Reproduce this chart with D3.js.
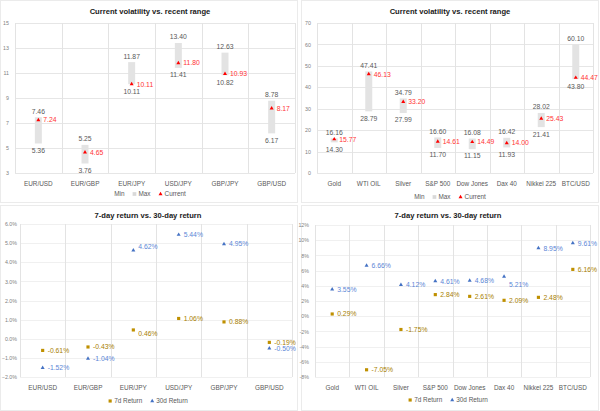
<!DOCTYPE html>
<html>
<head>
<meta charset="utf-8">
<script src="https://cdn.jsdelivr.net/npm/d3@7"></script>
<style>
  body { margin: 0; background: #fff; }
  svg { display: block; font-family: "Liberation Sans", Arial, sans-serif; }
</style>
</head>
<body>
<script>
// --- data ---
const fxPairs = ['EUR/USD', 'EUR/GBP', 'EUR/JPY', 'USD/JPY', 'GBP/JPY', 'GBP/USD'];
const fxMin = [5.36, 3.76, 10.11, 11.41, 10.82, 6.17];
const fxMax = [7.46, 5.25, 11.87, 13.40, 12.63, 8.78];
const fxCurrent = [7.24, 4.65, 10.11, 11.80, 10.93, 8.17];
const fx7d = [-0.61, -0.43, 0.46, 1.06, 0.88, -0.19];
const fx30d = [-1.52, -1.04, 4.62, 5.44, 4.95, -0.50];

const assets = ['Gold', 'WTI OIL', 'Silver', 'S&P 500', 'Dow Jones', 'Dax 40', 'Nikkei 225', 'BTC/USD'];
const assetMin = [14.30, 28.79, 27.99, 11.70, 11.15, 11.93, 21.41, 43.80];
const assetMax = [16.16, 47.41, 34.79, 16.60, 16.08, 16.42, 28.02, 60.10];
const assetCurrent = [15.77, 46.13, 33.20, 14.61, 14.49, 14.00, 25.43, 44.47];
const asset7d = [0.29, -7.05, -1.75, 2.84, 2.61, 2.09, 2.48, 6.16];
const asset30d = [3.55, 6.66, 4.12, 4.61, 4.68, 5.21, 8.95, 9.61];

const fxVolTicks = [3, 5, 7, 9, 11, 13, 15];
const assetVolTicks = [0, 10, 20, 30, 40, 50, 60, 70];
const fxRetTicks = [-2, -1, 0, 1, 2, 3, 4, 5, 6];
const assetRetTicks = [-8, -6, -4, -2, 0, 2, 4, 6, 8, 10, 12];

const GRAY_TXT = '#595959';
const RED = '#ff0000';
const GOLD = '#bf9000';
const BLUE = '#4472c4';

const svg = d3.select('body').append('svg')
  .attr('width', 600)
  .attr('height', 411);

// panel frames
[[0.5, 0.5, 297, 202], [301.5, 0.5, 297, 202], [0.5, 205.5, 297, 205], [301.5, 205.5, 297, 205]]
  .forEach(r => svg.append('rect')
    .attr('x', r[0]).attr('y', r[1]).attr('width', r[2]).attr('height', r[3])
    .attr('fill', 'none').attr('stroke', '#ebebeb'));

function frame (g, cfg, x, y) {
  g.append('text')
    .attr('x', cfg.titleX).attr('y', cfg.titleY)
    .attr('text-anchor', 'middle')
    .attr('font-size', 7.6).attr('font-weight', 'bold').attr('fill', '#1a1a1a')
    .text(cfg.title);

  g.append('g').selectAll('line').data(cfg.ticks).join('line')
    .attr('x1', cfg.x0).attr('x2', cfg.x1)
    .attr('y1', d => Math.round(y(d)) + 0.5).attr('y2', d => Math.round(y(d)) + 0.5)
    .attr('stroke', cfg.hGrid);

  const bw = x.step();
  g.append('g').selectAll('line').data(d3.range(cfg.cats.length + 1)).join('line')
    .attr('x1', i => Math.round(cfg.x0 + i * bw) + 0.5).attr('x2', i => Math.round(cfg.x0 + i * bw) + 0.5)
    .attr('y1', cfg.y0).attr('y2', cfg.y1)
    .attr('stroke', '#e3e3e3');

  const ya = g.append('g')
    .attr('transform', `translate(${cfg.x0},0)`)
    .call(d3.axisLeft(y).tickValues(cfg.ticks).tickFormat(cfg.fmt).tickSize(0).tickPadding(cfg.pad));
  ya.select('.domain').remove();
  ya.selectAll('text').attr('font-size', 5.3).attr('fill', '#7f7f7f').attr('font-family', null);

  const xa = g.append('g')
    .attr('transform', `translate(0,${cfg.y1})`)
    .call(d3.axisBottom(x).tickSize(0).tickPadding(8));
  xa.select('.domain').remove();
  xa.selectAll('text').attr('font-size', 6.4).attr('fill', GRAY_TXT).attr('font-family', null);
}

function legend (g, cx, cy, items) {
  const lg = g.append('g');
  let cur = 0;
  items.forEach(it => {
    const ig = lg.append('g').attr('transform', `translate(${cur},0)`);
    let off = 0;
    if (it.sym) {
      ig.append('path')
        .attr('d', d3.symbol(it.sym, it.size)())
        .attr('transform', 'translate(2,0)')
        .attr('fill', it.color);
      off = 6;
    }
    const t = ig.append('text')
      .attr('x', off).attr('dy', '0.35em')
      .attr('font-size', 6.4).attr('fill', GRAY_TXT)
      .text(it.label);
    cur += off + t.node().getComputedTextLength() + 8;
  });
  lg.attr('transform', `translate(${cx - (cur - 8) / 2},${cy})`);
}

function rangeChart (cfg) {
  const g = svg.append('g');
  const x = d3.scaleBand().domain(cfg.cats).range([cfg.x0, cfg.x1]);
  const y = d3.scaleLinear().domain(cfg.domain).range([cfg.y1, cfg.y0]);
  frame(g, cfg, x, y);

  const rows = cfg.cats.map((c, i) => ({ c, lo: cfg.lo[i], hi: cfg.hi[i], cur: cfg.cur[i] }));
  const cx = d => x(d.c) + x.bandwidth() / 2;

  g.append('g').selectAll('rect').data(rows).join('rect')
    .attr('x', d => cx(d) - 3.5).attr('width', 7)
    .attr('y', d => y(d.hi)).attr('height', d => y(d.lo) - y(d.hi))
    .attr('fill', '#e3e3e3');

  g.append('g').selectAll('path').data(rows).join('path')
    .attr('d', d3.symbol(d3.symbolTriangle, 7)())
    .attr('transform', d => `translate(${cx(d)},${y(d.cur)})`)
    .attr('fill', RED);

  const lbl = g.append('g').attr('font-size', 6.8);
  lbl.selectAll('text.hi').data(rows).join('text')
    .attr('class', 'hi')
    .attr('x', cx).attr('y', d => y(d.hi) - 6).attr('dy', '0.35em')
    .attr('text-anchor', 'middle').attr('fill', GRAY_TXT)
    .text(d => d.hi.toFixed(2));
  lbl.selectAll('text.lo').data(rows).join('text')
    .attr('class', 'lo')
    .attr('x', cx).attr('y', d => y(d.lo) + 7).attr('dy', '0.35em')
    .attr('text-anchor', 'middle').attr('fill', GRAY_TXT)
    .text(d => d.lo.toFixed(2));
  lbl.selectAll('text.cur').data(rows).join('text')
    .attr('class', 'cur')
    .attr('x', d => cx(d) + 5).attr('y', d => y(d.cur)).attr('dy', '0.35em')
    .attr('fill', '#ff3333')
    .text(d => d.cur.toFixed(2));

  legend(g, cfg.titleX, cfg.legendY, [
    { label: 'Min' },
    { label: 'Max', sym: d3.symbolSquare, size: 14, color: '#d9d9d9' },
    { label: 'Current', sym: d3.symbolTriangle, size: 7, color: RED }
  ]);
}

function returnChart (cfg) {
  const g = svg.append('g');
  const x = d3.scaleBand().domain(cfg.cats).range([cfg.x0, cfg.x1]);
  const y = d3.scaleLinear().domain(cfg.domain).range([cfg.y1, cfg.y0]);
  frame(g, cfg, x, y);

  const cx = c => x(c) + x.bandwidth() / 2;
  const series = [
    { vals: cfg.r7, sym: d3.symbolSquare, size: 10, color: GOLD, txt: '#a88000' },
    { vals: cfg.r30, sym: d3.symbolTriangle, size: 7, color: BLUE, txt: '#5b86d6' }
  ];
  series.forEach((s, si) => {
    const rows = cfg.cats.map((c, i) => ({ c, v: s.vals[i], n: (cfg.nudge[si] || {})[c] || [0, 0] }));
    g.append('g').selectAll('path').data(rows).join('path')
      .attr('d', d3.symbol(s.sym, s.size)())
      .attr('transform', d => `translate(${cx(d.c)},${y(d.v)})`)
      .attr('fill', s.color);
    g.append('g').selectAll('text').data(rows).join('text')
      .attr('x', d => cx(d.c) + 5 + d.n[0]).attr('y', d => y(d.v) + d.n[1]).attr('dy', '0.35em')
      .attr('font-size', 6.8).attr('fill', s.txt)
      .text(d => d.v.toFixed(2) + '%');
  });

  legend(g, cfg.titleX, cfg.legendY, [
    { label: '7d Return', sym: d3.symbolSquare, size: 10, color: GOLD },
    { label: '30d Return', sym: d3.symbolTriangle, size: 7, color: BLUE }
  ]);
}

rangeChart({
  title: 'Current volatility vs. recent range', titleX: 150, titleY: 14,
  cats: fxPairs, lo: fxMin, hi: fxMax, cur: fxCurrent,
  x0: 15, x1: 295, y0: 23, y1: 173, domain: [3, 15], ticks: fxVolTicks,
  fmt: d3.format('d'), pad: 6, hGrid: '#e6e6e6', legendY: 194
});

rangeChart({
  title: 'Current volatility vs. recent range', titleX: 450, titleY: 14,
  cats: assets, lo: assetMin, hi: assetMax, cur: assetCurrent,
  x0: 317, x1: 593, y0: 23, y1: 173, domain: [0, 70], ticks: assetVolTicks,
  fmt: d3.format('d'), pad: 6, hGrid: '#e6e6e6', legendY: 197
});

returnChart({
  title: '7-day return vs. 30-day return', titleX: 148, titleY: 218,
  cats: fxPairs, r7: fx7d, r30: fx30d,
  nudge: [{ 'EUR/JPY': [0, 4] }, { 'EUR/JPY': [0, -4] }],
  x0: 20, x1: 292, y0: 224, y1: 377, domain: [-2, 6], ticks: fxRetTicks,
  fmt: d => d3.format('.1f')(d) + '%', pad: 3, hGrid: '#f0f0f0', legendY: 401
});

returnChart({
  title: '7-day return vs. 30-day return', titleX: 448, titleY: 218,
  cats: assets, r7: asset7d, r30: asset30d,
  nudge: [{}, { 'Dax 40': [0, 8] }],
  x0: 315, x1: 590, y0: 225, y1: 377, domain: [-8, 12], ticks: assetRetTicks,
  fmt: d => d + '%', pad: 6, hGrid: '#f0f0f0', legendY: 400
});
</script>
</body>
</html>
